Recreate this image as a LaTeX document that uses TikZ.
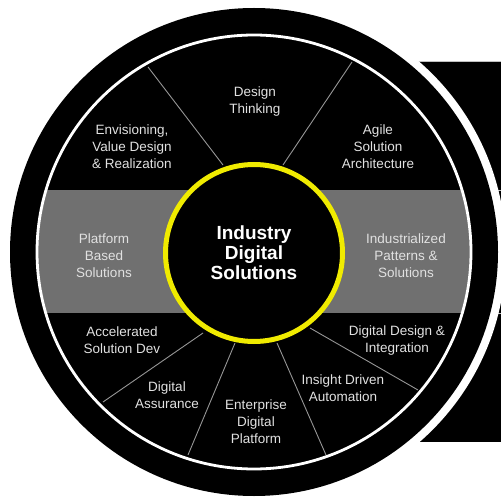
\documentclass[tikz,border=0pt]{standalone}
\usepackage{fontspec}
\setmainfont{Liberation Sans}
\definecolor{bandgray}{RGB}{112,112,112}
\definecolor{spokegray}{RGB}{150,150,150}
\definecolor{labelgray}{RGB}{225,225,225}
\definecolor{ringyellow}{RGB}{240,235,0}
\begin{document}
\begin{tikzpicture}[x=1pt,y=-1pt,
  lbl/.style={text=labelgray,align=center,inner sep=0pt,font=\fontsize{13.5}{17}\selectfont},
  spoke/.style={draw=spokegray,line width=0.9pt},
  ctr/.style={text=white,align=center,inner sep=0pt,font=\fontsize{19}{20}\selectfont\bfseries}]
\useasboundingbox[fill=white] (0,0) rectangle (501,497);
% right-hand black panel
\fill[black] (405,61) rectangle (501,442);
\draw[spokegray!60,line width=0.8pt] (405,61.5) -- (501,61.5);
\draw[spokegray!60,line width=0.8pt] (501,190) -- (497.5,190) -- (497.5,313) -- (501,313);
% outer disc with white gap
\fill[white] (254,252) circle (252);
\fill[black] (254,252) circle (244);
% grey band
\begin{scope}
  \clip (254,252) circle (216);
  \fill[bandgray] (0,190) rectangle (501,313);
\end{scope}
% white ring
\draw[white,line width=2.8pt] (254,252) circle (217);
% spokes
\draw[spoke] (148,67) -- (223,165);
\draw[spoke] (352,62) -- (283,165);
\draw[spoke] (203,333) -- (103,402);
\draw[spoke] (235,343) -- (188,455);
\draw[spoke] (277,343) -- (326,455);
\draw[spoke] (310,328) -- (418,390);
% centre
\draw[ringyellow,line width=5pt,fill=black] (254,253) circle (88.5);
\node[ctr] (core) at (254,253) {Industry\\Digital\\Solutions};
% labels
\node[lbl] (design) at (255,101.5) {Design\\Thinking};
\node[lbl] (envision) at (132,147) {Envisioning,\\Value Design\\\& Realization};
\node[lbl] (agile) at (378,147) {Agile\\Solution\\Architecture};
\node[lbl] (platform) at (104,255.5) {Platform\\Based\\Solutions};
\node[lbl] (indus) at (406,255.5) {Industrialized\\Patterns \&\\Solutions};
\node[lbl] (accel) at (122,340.5) {Accelerated\\Solution Dev};
\node[lbl] (assur) at (167,395) {Digital\\Assurance};
\node[lbl] (enterprise) at (256,421.5) {Enterprise\\Digital\\Platform};
\node[lbl] (insight) at (343,388) {Insight Driven\\Automation};
\node[lbl] (ddi) at (397,340.5) {Digital Design \&\\Integration};
\end{tikzpicture}
\end{document}
